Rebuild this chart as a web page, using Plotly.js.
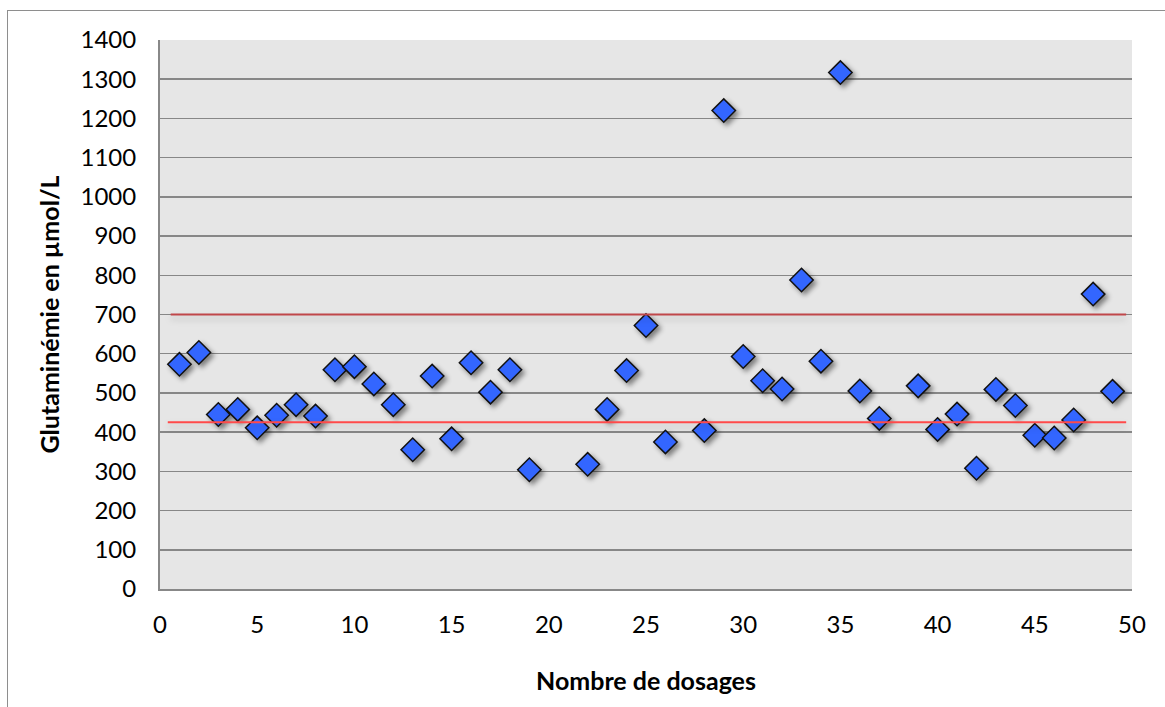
<!DOCTYPE html>
<html>
<head>
<meta charset="utf-8">
<script src="https://cdn.plot.ly/plotly-3.0.1.min.js"></script>
<style>
  html, body { margin: 0; padding: 0; background: #fff; overflow: hidden; }
  #wrap { position: relative; width: 1165px; height: 707px; }
  #chart { position: absolute; left: 0; top: 0; width: 1165px; height: 707px; }
  #frame { position: absolute; left: 7px; top: 10px; width: 1300px; height: 900px;
           border: 1.5px solid #8e8e8e; pointer-events: none; }
  .scatterlayer .trace:first-child path.point { filter: drop-shadow(3px 3px 2.5px rgba(0,0,0,0.45)); }
  .scatterlayer .trace path.js-line { filter: drop-shadow(0px 4px 3px rgba(0,0,0,0.18)); }
</style>
</head>
<body>
<div id="wrap">
  <div id="chart"></div>
  <div id="frame"></div>
</div>
<script>
// Data
const dosageIndex = [1,2,3,4,5,6,7,8,9,10,11,12,13,14,15,16,17,18,19,
                     22,23,24,25,26,28,29,30,31,32,33,34,35,36,37,
                     39,40,41,42,43,44,45,46,47,48,49];
const glutamine   = [573,603,445,458,411,443,470,441,559,567,523,470,355,543,383,577,502,559,304,
                     318,458,557,672,375,404,1220,593,531,510,788,581,1317,505,435,
                     518,407,446,308,509,468,392,385,431,752,504];
// Reference limits (µmol/L)
const upperLimit = 700;
const lowerLimit = 425;
const upperLineX = [0.55, 49.7];
const lowerLineX = [0.4, 49.7];
const xTicks = [0,5,10,15,20,25,30,35,40,45,50];
const yTicks = [0,100,200,300,400,500,600,700,800,900,1000,1100,1200,1300,1400];

const font = 'Lato, "Open Sans", sans-serif';

const traces = [
  {
    type: 'scatter', mode: 'markers', x: dosageIndex, y: glutamine,
    marker: { symbol: 'diamond', size: 18, color: '#3366ff',
              line: { color: '#111111', width: 1.5 } },
    hoverinfo: 'x+y', showlegend: false
  },
  {
    type: 'scatter', mode: 'lines', x: upperLineX, y: upperLineX.map(() => upperLimit),
    line: { color: '#c0474a', width: 2 }, showlegend: false, hoverinfo: 'y'
  },
  {
    type: 'scatter', mode: 'lines', x: lowerLineX, y: lowerLineX.map(() => lowerLimit),
    line: { color: '#ff4a4a', width: 2 }, showlegend: false, hoverinfo: 'y'
  }
];

const layout = {
  width: 1165, height: 707,
  margin: { l: 160, r: 33, t: 40, b: 118 },
  paper_bgcolor: 'rgba(0,0,0,0)',
  plot_bgcolor: '#e6e6e6',
  font: { family: font, color: '#000', size: 24 },
  showlegend: false,
  xaxis: {
    range: [0, 50], tickvals: xTicks, ticktext: xTicks.map(String),
    showgrid: false, zeroline: false,
    showline: true, linecolor: '#888888', linewidth: 2,
    ticks: 'outside', ticklen: 13, tickcolor: 'rgba(0,0,0,0)',
    tickfont: { family: font, size: 24, color: '#000' },
    title: { text: 'Nombre de dosages', font: { family: font, size: 25, color: '#000', weight: 'bold' }, standoff: 36 }
  },
  yaxis: {
    range: [0, 1400], tickvals: yTicks, ticktext: yTicks.map(String),
    showgrid: true, gridcolor: '#878787', gridwidth: 1.5,
    zeroline: false,
    showline: true, linecolor: '#888888', linewidth: 2,
    ticks: 'outside', ticklen: 17, tickcolor: 'rgba(0,0,0,0)',
    tickfont: { family: font, size: 24, color: '#000' },
    title: { text: 'Glutaminémie en µmol/L', font: { family: font, size: 25, color: '#000', weight: 'bold' }, standoff: 14 }
  }
};

Plotly.newPlot('chart', traces, layout, { displayModeBar: false, staticPlot: true });
</script>
</body>
</html>
